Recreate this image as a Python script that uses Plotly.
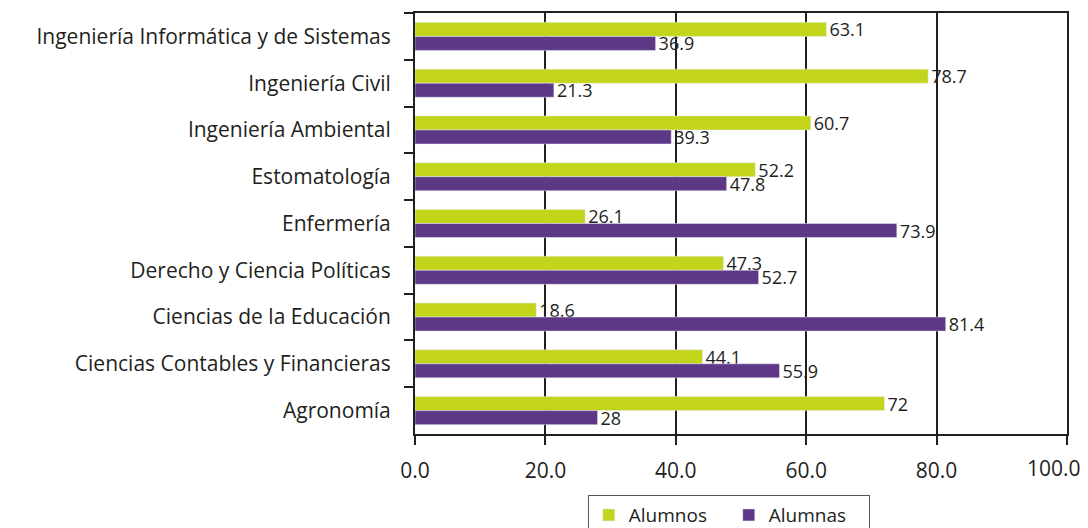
import plotly.graph_objects as go

carreras = [
    "Ingeniería Informática y de Sistemas",
    "Ingeniería Civil",
    "Ingeniería Ambiental",
    "Estomatología",
    "Enfermería",
    "Derecho y Ciencia Políticas",
    "Ciencias de la Educación",
    "Ciencias Contables y Financieras",
    "Agronomía",
]
alumnos = [63.1, 78.7, 60.7, 52.2, 26.1, 47.3, 18.6, 44.1, 72]
alumnas = [36.9, 21.3, 39.3, 47.8, 73.9, 52.7, 81.4, 55.9, 28]
x_ticks = [0, 20, 40, 60, 80, 100]
x_ticktext = ["0.0", "20.0", "40.0", "60.0", "80.0", ""]

GREEN = "#C2D51A"
PURPLE = "#5C3886"
INK = "#231F20"
FONT = "Open Sans, Noto Sans, sans-serif"


def bar(vals, name, color):
    return go.Bar(
        y=carreras, x=vals, name=name, orientation="h",
        marker_color=color, text=[f"{v:g}" for v in vals],
        texttemplate="%{text}", textposition="outside",
        textfont=dict(size=18, color=INK), constraintext="none",
        cliponaxis=False,
    )


fig = go.Figure([bar(alumnos, "Alumnos", GREEN), bar(alumnas, "Alumnas", PURPLE)])

# page body adds an 8px offset, so the figure is 8px smaller each way
fig.update_layout(
    width=1080, height=520,
    plot_bgcolor="white", paper_bgcolor="white",
    font=dict(family=FONT, color=INK, size=21),
    margin=dict(l=407, r=21, t=5, b=94, autoexpand=False),
    barmode="group", bargap=0.4, bargroupgap=0,
    showlegend=True,
    legend=dict(
        orientation="h", x=0.265, y=-0.145, xanchor="left", yanchor="top",
        bordercolor="#555", borderwidth=1, font=dict(size=19),
        traceorder="normal", itemwidth=30, entrywidth=95,
    ),
)
# last tick label sits a little left of its tick so it stays on the page
fig.add_annotation(
    x=x_ticks[-1], y=0, xref="x", yref="paper", text="100.0",
    showarrow=False, xanchor="center", yanchor="top",
    xshift=-13, yshift=-18, font=dict(size=21, color=INK),
)
fig.update_xaxes(
    range=[0, 100], tickvals=x_ticks, ticktext=x_ticktext,
    automargin=False, tickfont=dict(size=21),
    showgrid=True, gridcolor=INK, gridwidth=1.5,
    showline=True, linecolor=INK, linewidth=2, mirror=True,
    ticks="outside", ticklen=9, tickwidth=1.5, tickcolor=INK,
    ticklabelstandoff=8, zeroline=False,
)
fig.update_yaxes(
    autorange="reversed", tickson="boundaries", automargin=False,
    showline=True, linecolor=INK, linewidth=2, mirror=True,
    ticks="outside", ticklen=9, tickwidth=1.5, tickcolor=INK,
    ticklabelstandoff=18, showgrid=False,
)

fig.write_html("out.html")
